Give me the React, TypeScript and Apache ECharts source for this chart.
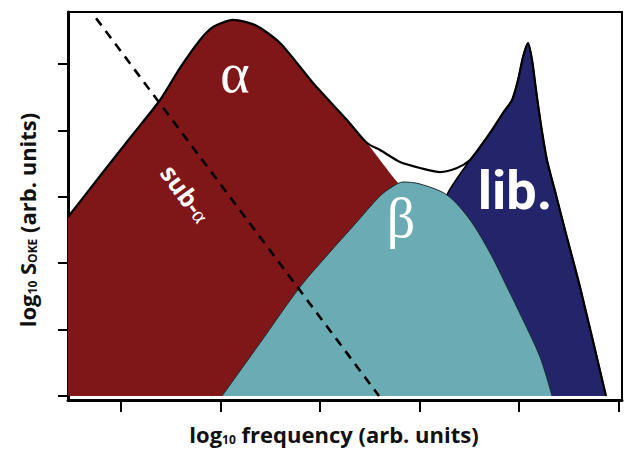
import React, { useEffect, useRef } from "react";
import * as echarts from "echarts";

// Tick positions (arbitrary log units) — no tick labels in the figure
const xTicks = [0, 1, 2, 3, 4, 5];
const yTicks = [0, 1, 2, 3, 4, 5];

// α relaxation band (bottom layer)
const alphaBand: [number, number][] = [
  [-0.533, 2.696], [-0.211, 3.313], [0.09, 3.886], [0.392, 4.458], [0.593, 4.94],
  [0.794, 5.361], [0.925, 5.557], [1.126, 5.663], [1.347, 5.587], [1.598, 5.316],
  [1.93, 4.714], [2.271, 4.157], [2.472, 3.81], [2.734, 3.298], [3.106, 2.651],
  [3.809, 1.446], [4.613, 0],
];

// librational band
const libBand: [number, number][] = [
  [2.653, 0], [3.005, 1.596], [3.276, 3.027], [3.508, 3.554], [3.608, 3.75],
  [3.709, 3.961], [3.839, 4.262], [3.93, 4.458], [3.99, 4.759], [4.04, 5.105],
  [4.09, 5.316], [4.131, 5.06], [4.171, 4.608], [4.221, 4.081], [4.281, 3.554],
  [4.372, 3.027], [4.462, 2.5], [4.613, 1.642], [4.874, 0],
];

// β relaxation band (top layer)
const betaBand: [number, number][] = [
  [1.015, 0], [1.397, 0.798], [1.799, 1.642], [2.101, 2.169], [2.352, 2.59],
  [2.603, 3.012], [2.724, 3.148], [2.834, 3.223], [3.005, 3.193], [3.276, 3.027],
  [3.508, 2.651], [3.709, 2.154], [3.879, 1.642], [4.04, 1.145], [4.211, 0.587],
  [4.332, 0],
];

// total spectrum envelope
const envelope: [number, number][] = [
  [-0.533, 2.696], [-0.211, 3.313], [0.09, 3.886], [0.392, 4.458], [0.593, 4.94],
  [0.794, 5.361], [0.925, 5.557], [1.126, 5.663], [1.347, 5.587], [1.598, 5.316],
  [1.93, 4.714], [2.271, 4.157], [2.472, 3.81], [2.603, 3.705], [2.804, 3.524],
  [3.005, 3.434], [3.206, 3.373], [3.377, 3.434], [3.508, 3.554], [3.608, 3.75],
  [3.709, 3.961], [3.839, 4.262], [3.93, 4.458], [3.99, 4.759], [4.04, 5.105],
  [4.09, 5.316], [4.131, 5.06], [4.171, 4.608], [4.221, 4.081], [4.281, 3.554],
  [4.372, 3.027], [4.462, 2.5], [4.613, 1.642], [4.874, 0],
];

// sub-α dashed line
const subAlpha: [number, number][] = [
  [-0.251, 5.69], [2.593, 0],
];

const X_MIN = -0.533;
const X_MAX = 5.035;
const Y_MIN = -0.06;
const Y_MAX = 5.783;

const RED = "#7f1719";
const TEAL = "#6aabb4";
const NAVY = "#24246b";

export default function App() {
  const ref = useRef<HTMLDivElement>(null);
  useEffect(() => {
    document.body.style.margin = "0";
    const chart = echarts.init(ref.current!, null, { renderer: "svg" });
    const sans = "'Open Sans', sans-serif";
    const serif = "'Liberation Serif', 'DejaVu Serif', serif";
    const titleRich = {
      a: { fontFamily: sans, fontWeight: 700, fontSize: 22, fill: "#111", lineHeight: 22, verticalAlign: "bottom" },
      s: { fontFamily: sans, fontWeight: 700, fontSize: 12, fill: "#111", lineHeight: 9, verticalAlign: "bottom" },
    };
    chart.setOption({
      animation: false,
      grid: {
        left: 68, right: 6, top: 12, bottom: 50,
        show: true, borderColor: "#000", borderWidth: 2,
      },
      xAxis: {
        type: "value", min: X_MIN, max: X_MAX,
        axisLine: { onZero: false, lineStyle: { color: "#000", width: 3 } },
        axisTick: { show: true, customValues: xTicks, length: 12, inside: false, lineStyle: { color: "#000", width: 2 } },
        axisLabel: { show: false },
        splitLine: { show: false },
      },
      yAxis: {
        type: "value", min: Y_MIN, max: Y_MAX,
        axisLine: { onZero: false, lineStyle: { color: "#000", width: 3 } },
        axisTick: { show: true, customValues: yTicks, length: 10, inside: false, lineStyle: { color: "#000", width: 2 } },
        axisLabel: { show: false },
        splitLine: { show: false },
      },
      series: [
        {
          name: "α", type: "line", data: alphaBand, smooth: 0.25, symbol: "none", z: 1,
          lineStyle: { width: 0, opacity: 0 },
          areaStyle: { color: RED, opacity: 1 },
        },
        {
          name: "lib.", type: "line", data: libBand, smooth: 0.2, symbol: "none", z: 2,
          lineStyle: { color: "#000", width: 1.5 },
          areaStyle: { color: NAVY, opacity: 1 },
        },
        {
          name: "β", type: "line", data: betaBand, smooth: 0.3, symbol: "none", z: 3,
          lineStyle: { color: "#1d2d33", width: 1 },
          areaStyle: { color: TEAL, opacity: 1 },
        },
        {
          name: "total", type: "line", data: envelope, smooth: 0.25, symbol: "none", z: 4,
          lineStyle: { color: "#000", width: 2.2 },
        },
        {
          name: "sub-α", type: "line", data: subAlpha, symbol: "none", z: 5,
          lineStyle: { color: "#000", width: 2.6, type: [9, 7] },
        },
      ],
      graphic: [
        {
          type: "text", x: 235, y: 73, z: 100,
          style: { text: "α", fill: "#fff", fontFamily: serif, fontSize: 56, align: "center", verticalAlign: "middle" },
        },
        {
          type: "text", x: 401, y: 218, z: 100,
          style: { text: "β", fill: "#fff", fontFamily: serif, fontSize: 56, align: "center", verticalAlign: "middle" },
        },
        {
          type: "text", x: 515, y: 190, z: 100,
          style: { text: "lib.", fill: "#fff", fontFamily: "Roboto, sans-serif", fontWeight: 700, fontSize: 54, align: "center", verticalAlign: "middle" },
        },
        {
          type: "text", x: 188, y: 192, z: 100, rotation: -54 * Math.PI / 180,
          style: {
            text: "{a|sub-}{b|α}", align: "center", verticalAlign: "middle",
            rich: {
              a: { fontFamily: sans, fontWeight: 700, fontSize: 25, fill: "#fff", lineHeight: 30, verticalAlign: "bottom" },
              b: { fontFamily: serif, fontSize: 22, fill: "#fff", lineHeight: 26, verticalAlign: "bottom" },
            },
          },
        },
        {
          type: "text", x: 334, y: 434, z: 100,
          style: {
            text: "{a|log}{s|10}{a| frequency (arb. units)}", align: "center", verticalAlign: "middle",
            rich: titleRich,
          },
        },
        {
          type: "text", x: 27, y: 220, z: 100, rotation: Math.PI / 2,
          style: {
            text: "{a|log}{s|10}{a| S}{s|OKE}{a| (arb. units)}", align: "center", verticalAlign: "middle",
            rich: titleRich,
          },
        },
      ],
    });
    return () => chart.dispose();
  }, []);
  return <div ref={ref} style={{ width: 628, height: 450 }} />;
}
